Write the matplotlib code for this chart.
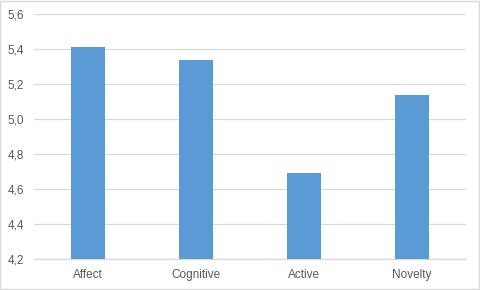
import matplotlib
matplotlib.use('Agg')
import matplotlib.pyplot as plt
from matplotlib.ticker import FuncFormatter

categories = ['Affect', 'Cognitive', 'Active', 'Novelty']
values = [5.41, 5.335, 4.69, 5.14]
yticks = [4.2, 4.4, 4.6, 4.8, 5.0, 5.2, 5.4, 5.6]

plt.rcParams['font.family'] = ['Liberation Sans', 'DejaVu Sans']

fig = plt.figure(figsize=(4.8, 2.9), dpi=100)
ax = fig.add_axes([34 / 480, 31 / 290, 432 / 480, 245 / 290])

ax.bar(range(len(categories)), values, width=0.315, bottom=0,
       color='#5B9BD5', zorder=3)

ax.set_xlim(-0.5, len(categories) - 0.5)
ax.set_ylim(4.2, 5.6)
ax.set_yticks(yticks)
ax.yaxis.set_major_formatter(FuncFormatter(lambda v, p: f'{v:.1f}'.replace('.', ',')))
ax.set_xticks(range(len(categories)))
ax.set_xticklabels(categories)

ax.grid(axis='y', color='#D9D9D9', linewidth=0.9, zorder=0)
for s in ['top', 'right', 'left']:
    ax.spines[s].set_visible(False)
ax.spines['bottom'].set_color('#D9D9D9')
ax.spines['bottom'].set_linewidth(0.9)
ax.tick_params(length=0, colors='#595959', labelsize=8.5)
ax.tick_params(axis='x', pad=7.5)
ax.tick_params(axis='y', pad=7)

# chart border
fig.patches.append(plt.Rectangle((0.001, 0.002), 0.997, 0.995, transform=fig.transFigure,
                                 fill=False, edgecolor='#D9D9D9', linewidth=1))

fig.savefig('out.png', dpi=100)
